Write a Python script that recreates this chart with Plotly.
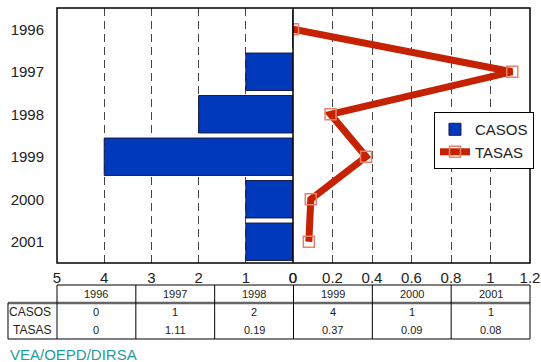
import plotly.graph_objects as go

# data
years = ["1996", "1997", "1998", "1999", "2000", "2001"]
casos = [0, 1, 2, 4, 1, 1]
tasas = [0, 1.11, 0.19, 0.37, 0.09, 0.08]
tasas_txt = ["0", "1.11", "0.19", "0.37", "0.09", "0.08"]
left_ticks = [5, 4, 3, 2, 1, 0]
right_ticks = [0, 0.2, 0.4, 0.6, 0.8, 1, 1.2]

font = "Arial, Liberation Sans, sans-serif"
split = 0.499
grid = dict(showgrid=True, gridcolor="#444444", griddash="8px,5px", gridwidth=1.2)

fig = go.Figure()
fig.add_trace(go.Bar(
    x=casos, y=years, orientation="h", name="CASOS",
    marker=dict(color="#0039bb", line=dict(color="#1a1a40", width=1)),
    width=0.88, xaxis="x", yaxis="y"))
fig.add_trace(go.Scatter(
    x=tasas, y=years, mode="lines+markers", name="TASAS",
    line=dict(color="#c42200", width=7),
    marker=dict(symbol="square-open", size=11, color="#e8806c", line=dict(width=1.5)),
    xaxis="x2", yaxis="y"))

fig.update_layout(
    width=541, height=362,
    margin=dict(l=57, r=11, t=8, b=99, autoexpand=False),
    paper_bgcolor="white", plot_bgcolor="white",
    font=dict(family=font, size=15, color="#222222"),
    showlegend=True,
    legend=dict(x=0.797, y=0.592, xanchor="left", yanchor="top",
                bordercolor="black", borderwidth=1, bgcolor="white",
                font=dict(size=15), itemwidth=30, tracegroupgap=0),
    xaxis=dict(domain=[0, split], range=[5, 0], tickvals=left_ticks, automargin=False,
               showline=False, zeroline=False, ticks="", ticklabelstandoff=4, **grid),
    xaxis2=dict(domain=[split, 1], range=[0, 1.2], tickvals=right_ticks, automargin=False,
                showline=False, zeroline=False, ticks="", ticklabelstandoff=4,
                anchor="y", **grid),
    yaxis=dict(categoryorder="array", categoryarray=years, autorange="reversed",
               range=[5.5, -0.5], showgrid=False, zeroline=False, ticks="",
               ticklabelstandoff=12, automargin=False),
)

# frame and zero line
fig.add_shape(type="rect", xref="paper", yref="paper", x0=0, x1=1, y0=0, y1=1,
              line=dict(color="black", width=1.5))
fig.add_shape(type="line", xref="paper", yref="paper", x0=split, x1=split, y0=0, y1=1,
              line=dict(color="black", width=1.5))

# data table under the chart
n = len(years)
label_x0 = -0.1036
rows = [-0.0863, -0.157, -0.227, -0.298]
line_k = dict(color="black", width=1)
fig.add_shape(type="line", xref="paper", yref="paper", x0=0, x1=1, y0=rows[0], y1=rows[0], line=line_k)
fig.add_shape(type="line", xref="paper", yref="paper", x0=label_x0, x1=1, y0=rows[1], y1=rows[1],
              line=dict(color="#666666", width=2.5))
fig.add_shape(type="line", xref="paper", yref="paper", x0=label_x0, x1=1, y0=rows[3], y1=rows[3], line=line_k)
fig.add_shape(type="line", xref="paper", yref="paper", x0=label_x0, x1=label_x0, y0=rows[1], y1=rows[3], line=line_k)
for i in range(n + 1):
    fig.add_shape(type="line", xref="paper", yref="paper", x0=i / n, x1=i / n,
                  y0=rows[0], y1=rows[3], line=line_k)

cell_font = dict(family=font, size=11, color="#222222")
cell = dict(xref="paper", yref="paper", showarrow=False, xanchor="center", yanchor="middle",
            font=cell_font)
for i, yr in enumerate(years):
    cx = (i + 0.5) / n
    fig.add_annotation(x=cx, y=(rows[0] + rows[1]) / 2, text=yr, **cell)
    fig.add_annotation(x=cx, y=(rows[1] + rows[2]) / 2, text=str(casos[i]), **cell)
    fig.add_annotation(x=cx, y=(rows[2] + rows[3]) / 2, text=tasas_txt[i], **cell)
lab = dict(xref="paper", yref="paper", showarrow=False, xanchor="right", yanchor="middle",
           font=dict(family=font, size=12, color="#222222"))
fig.add_annotation(x=-0.008, y=(rows[1] + rows[2]) / 2, text="CASOS", **lab)
fig.add_annotation(x=-0.008, y=(rows[2] + rows[3]) / 2, text="TASAS", **lab)

fig.add_annotation(x=-0.1036, y=-0.357, xref="paper", yref="paper", text="VEA/OEPD/DIRSA",
                   showarrow=False, xanchor="left", yanchor="middle",
                   font=dict(family=font, size=15, color="#1f9c9c"))

fig.write_html("out.html", config={"displayModeBar": False},
               post_script="document.body.style.margin='0';")
